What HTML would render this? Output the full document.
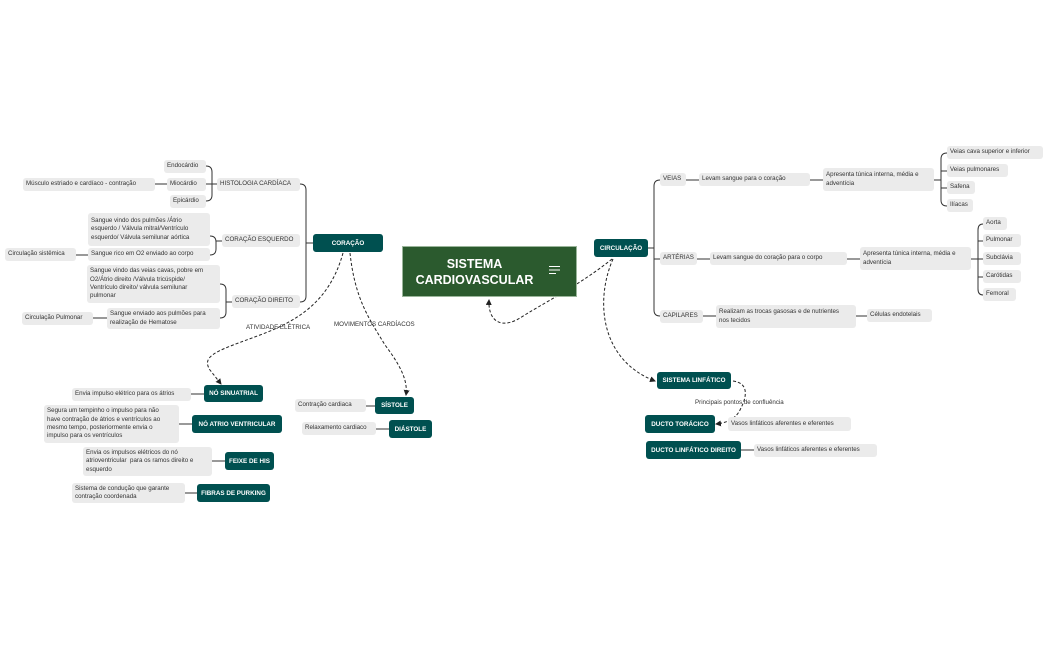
<!DOCTYPE html>
<html><head><meta charset="utf-8"><style>
body{margin:0;width:1050px;height:650px;background:#fff;position:relative;overflow:hidden;font-family:"Liberation Sans",sans-serif;}
.g,.t{position:absolute;box-sizing:border-box;display:flex;align-items:center;white-space:nowrap;}
.g{background:#ebebeb;color:#333;font-size:6.2px;line-height:8.3px;padding:0 3px;border-radius:3px;}
.t{background:#005050;color:#fff;font-size:6.3px;font-weight:bold;justify-content:center;border-radius:3px;}
.l{position:absolute;font-size:6.2px;color:#333;white-space:nowrap;}
svg{position:absolute;left:0;top:0;}
</style></head><body>
<svg width="1050" height="650">
<defs><marker id="a" markerWidth="6" markerHeight="6" refX="5" refY="3" orient="auto"><path d="M0,0 L6,3 L0,6z" fill="#222"/></marker></defs>
<g stroke="#333" stroke-width="1" fill="none">
<path d="M206,166 Q212,166 212,172 V195 Q212,201 206,201 M206,184 H217 M155,184 H167"/>
<path d="M210,236 Q216,236 216,242 V249 Q216,255 210,255 M216,241 H222 M76,255 H88"/>
<path d="M220,284 Q226,284 226,290 V312 Q226,318 220,318 M226,302 H232 M93,318 H107"/>
<path d="M300,184 Q306,184 306,190 V296 Q306,302 300,302 M306,243 H313"/>
<path d="M648,248 H654 M660,180 Q654,180 654,186 V310 Q654,316 660,316 M654,259 H660"/>
<path d="M686,180 H699 M810,180 H823 M934,180 H941 M947,153 Q941,153 941,159 V200 Q941,206 947,206 M941,171 H947 M941,188 H947"/>
<path d="M697,259 H710 M847,259 H860 M971,259 H978 M983,224 Q978,224 978,230 V289 Q978,295 983,295 M978,241 H983 M978,259 H983 M978,277 H983"/>
<path d="M703,316 H716 M856,316 H867"/>
<path d="M741,450 H754"/>
<path d="M191,394 H204 M179,424 H192 M212,461 H225 M185,493 H197 M366,406 H375 M376,429 H389"/>
</g>
<g stroke="#222" stroke-width="1" fill="none" stroke-dasharray="3,2">
<path d="M343,253 C330,300 300,320 260,335 C220,350 200,355 210,370 L221,384" marker-end="url(#a)"/>
<path d="M350,253 C355,300 370,320 385,345 C400,365 408,380 406,395" marker-end="url(#a)"/>
<path d="M612,259 C580,285 540,305 520,318 C500,330 488,320 489,300" marker-end="url(#a)"/>
<path d="M613,259 C595,300 600,360 655,381" marker-end="url(#a)"/>
<path d="M733,381 C748,383 748,395 740,410 C735,420 725,423 716,424" marker-end="url(#a)"/>
</g>
</svg>
<div class="g" style="left:164px;top:160px;width:42px;height:13px">Endocárdio</div>
<div class="g" style="left:167px;top:178px;width:39px;height:13px">Miocárdio</div>
<div class="g" style="left:170px;top:195px;width:36px;height:13px">Epicárdio</div>
<div class="g" style="left:23px;top:178px;width:132px;height:13px">Músculo estriado e cardíaco - contração</div>
<div class="g" style="left:217px;top:178px;width:83px;height:13px">HISTOLOGIA CARDÍACA</div>
<div class="g" style="left:88px;top:213px;width:122px;height:33px">Sangue vindo dos pulmões /Átrio<br>esquerdo / Válvula mitral/Ventrículo<br>esquerdo/ Válvula semilunar aórtica</div>
<div class="g" style="left:88px;top:248px;width:122px;height:13px">Sangue rico em O2 enviado ao corpo</div>
<div class="g" style="left:5px;top:248px;width:71px;height:13px">Circulação sistêmica</div>
<div class="g" style="left:222px;top:234px;width:78px;height:13px">CORAÇÃO ESQUERDO</div>
<div class="g" style="left:87px;top:265px;width:133px;height:38px">Sangue vindo das veias cavas, pobre em<br>O2/Átrio direito /Válvula tricúspide/<br>Ventrículo direito/ válvula semilunar<br>pulmonar</div>
<div class="g" style="left:107px;top:308px;width:113px;height:21px">Sangue enviado aos pulmões para<br>realização de Hematose</div>
<div class="g" style="left:22px;top:312px;width:71px;height:13px">Circulação Pulmonar</div>
<div class="g" style="left:232px;top:295px;width:68px;height:13px">CORAÇÃO DIREITO</div>
<div class="t" style="left:313px;top:234px;width:70px;height:18px">CORAÇÃO</div>
<div class="l" style="left:246px;top:324px">ATIVIDADE ELÉTRICA</div>
<div class="l" style="left:334px;top:321px">MOVIMENTOS CARDÍACOS</div>
<div style="position:absolute;left:402px;top:246px;width:175px;height:51px;background:#2b5a2e;border:1px solid #9ab59a;box-sizing:border-box;color:#fff;font-weight:bold;font-size:12.5px;line-height:16px;text-align:center;padding-top:9px;padding-right:30px;">SISTEMA<br>CARDIOVASCULAR</div>
<div style="position:absolute;left:549px;top:266px;width:11px;height:1px;background:#fff;box-shadow:0 3.5px 0 #fff"></div>
<div style="position:absolute;left:549px;top:273px;width:7px;height:1px;background:#fff"></div>
<div class="t" style="left:594px;top:239px;width:54px;height:18px">CIRCULAÇÃO</div>
<div class="g" style="left:660px;top:173px;width:26px;height:13px">VEIAS</div>
<div class="g" style="left:699px;top:173px;width:111px;height:13px">Levam sangue para o coração</div>
<div class="g" style="left:823px;top:168px;width:111px;height:23px">Apresenta túnica interna, média e<br>adventícia</div>
<div class="g" style="left:947px;top:146px;width:96px;height:13px">Veias cava superior e inferior</div>
<div class="g" style="left:947px;top:164px;width:61px;height:13px">Veias pulmonares</div>
<div class="g" style="left:947px;top:181px;width:28px;height:13px">Safena</div>
<div class="g" style="left:947px;top:199px;width:26px;height:13px">Ilíacas</div>
<div class="g" style="left:660px;top:252px;width:37px;height:13px">ARTÉRIAS</div>
<div class="g" style="left:710px;top:252px;width:137px;height:13px">Levam sangue do coração para o corpo</div>
<div class="g" style="left:860px;top:247px;width:111px;height:23px">Apresenta túnica interna, média e<br>adventícia</div>
<div class="g" style="left:983px;top:217px;width:24px;height:13px">Aorta</div>
<div class="g" style="left:983px;top:234px;width:38px;height:13px">Pulmonar</div>
<div class="g" style="left:983px;top:252px;width:38px;height:13px">Subclávia</div>
<div class="g" style="left:983px;top:270px;width:38px;height:13px">Carótidas</div>
<div class="g" style="left:983px;top:288px;width:33px;height:13px">Femoral</div>
<div class="g" style="left:660px;top:310px;width:43px;height:13px">CAPILARES</div>
<div class="g" style="left:716px;top:305px;width:140px;height:23px">Realizam as trocas gasosas e de nutrientes<br>nos tecidos</div>
<div class="g" style="left:867px;top:309px;width:65px;height:13px">Células endotelais</div>
<div class="t" style="left:657px;top:372px;width:74px;height:17px">SISTEMA LINFÁTICO</div>
<div class="l" style="left:695px;top:399px">Principais pontos de confluência</div>
<div class="t" style="left:645px;top:415px;width:70px;height:18px">DUCTO TORÁCICO</div>
<div class="g" style="left:728px;top:417px;width:123px;height:14px">Vasos linfáticos aferentes e eferentes</div>
<div class="t" style="left:646px;top:441px;width:95px;height:18px">DUCTO LINFÁTICO DIREITO</div>
<div class="g" style="left:754px;top:444px;width:123px;height:13px">Vasos linfáticos aferentes e eferentes</div>
<div class="t" style="left:204px;top:385px;width:59px;height:17px">NÓ SINUATRIAL</div>
<div class="g" style="left:72px;top:388px;width:119px;height:13px">Envia impulso elétrico para os átrios</div>
<div class="t" style="left:192px;top:415px;width:90px;height:18px">NÓ ATRIO VENTRICULAR</div>
<div class="g" style="left:44px;top:405px;width:135px;height:38px">Segura um tempinho o impulso para não<br>have contração de átrios e ventrículos ao<br>mesmo tempo, posteriormente envia o<br>impulso para os ventrículos</div>
<div class="t" style="left:225px;top:452px;width:49px;height:18px">FEIXE DE HIS</div>
<div class="g" style="left:83px;top:447px;width:129px;height:29px">Envia os impulsos elétricos do nó<br>atrioventricular &nbsp;para os ramos direito e<br>esquerdo</div>
<div class="t" style="left:197px;top:484px;width:73px;height:18px">FIBRAS DE PURKING</div>
<div class="g" style="left:72px;top:483px;width:113px;height:20px">Sistema de condução que garante<br>contração coordenada</div>
<div class="t" style="left:375px;top:397px;width:39px;height:17px">SÍSTOLE</div>
<div class="g" style="left:295px;top:399px;width:71px;height:13px">Contração cardiaca</div>
<div class="t" style="left:389px;top:420px;width:43px;height:18px">DIÁSTOLE</div>
<div class="g" style="left:302px;top:422px;width:74px;height:13px">Relaxamento cardiaco</div>
</body></html>
